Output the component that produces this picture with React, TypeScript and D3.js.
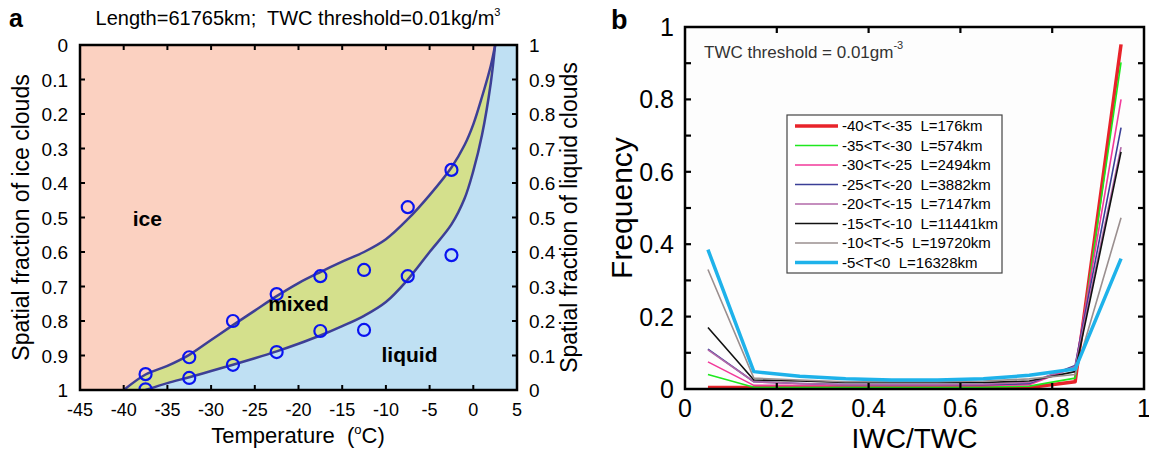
import { useRef, useEffect } from "react";
import * as d3 from "d3";

// panel a: phase boundaries (temperature in C, fraction)
const upperT = [-40, -37.5, -35, -32.5, -30, -27.5, -25, -22.5, -20, -17.5, -15, -12.5, -10, -7.5, -5, -2.5, -1, 0, 1, 2, 2.5];
const upperF = [1.0, 0.955, 0.93, 0.898, 0.855, 0.812, 0.77, 0.728, 0.69, 0.658, 0.628, 0.6, 0.563, 0.505, 0.435, 0.355, 0.29, 0.23, 0.15, 0.06, 0.0];
const lowerT = [-37.5, -35, -32.5, -30, -27.5, -25, -22.5, -20, -17.5, -15, -12.5, -10, -7.5, -5, -2.5, -1, 0, 1, 2, 2.5];
const lowerF = [1.0, 0.98, 0.963, 0.945, 0.927, 0.908, 0.888, 0.866, 0.842, 0.815, 0.785, 0.745, 0.68, 0.6, 0.52, 0.445, 0.365, 0.26, 0.11, 0.0];

// observed points
const obsT = [-37.5, -32.5, -27.5, -22.5, -17.5, -12.5, -7.5, -2.5];
const obsIce = [0.954, 0.905, 0.8, 0.722, 0.67, 0.652, 0.47, 0.362];
const obsLiq = [0.998, 0.965, 0.927, 0.89, 0.829, 0.826, 0.67, 0.609];

// panel b: IWC/TWC histograms
const binCenters = [0.05, 0.15, 0.25, 0.35, 0.45, 0.55, 0.65, 0.75, 0.85, 0.95];
const seriesNames = [
  "-40<T<-35  L=176km",
  "-35<T<-30  L=574km",
  "-30<T<-25  L=2494km",
  "-25<T<-20  L=3882km",
  "-20<T<-15  L=7147km",
  "-15<T<-10  L=11441km",
  "-10<T<-5  L=19720km",
  "-5<T<0  L=16328km",
];
const seriesColors = ["#e8232a", "#1ee81e", "#f2399a", "#3a3f96", "#b268a8", "#111111", "#9a8f8f", "#1eb2ea"];
const seriesWidths = [3.5, 1.6, 1.6, 1.6, 1.6, 1.6, 1.6, 3.5];
const freqRed = [0.004, 0.004, 0.004, 0.004, 0.004, 0.004, 0.004, 0.004, 0.02, 0.952];
const freqGreen = [0.04, 0.005, 0.005, 0.005, 0.005, 0.005, 0.005, 0.008, 0.03, 0.902];
const freqPink = [0.075, 0.01, 0.01, 0.01, 0.01, 0.01, 0.01, 0.012, 0.06, 0.8];
const freqNavy = [0.11, 0.02, 0.015, 0.012, 0.012, 0.012, 0.012, 0.015, 0.065, 0.722];
const freqPurple = [0.108, 0.02, 0.015, 0.012, 0.012, 0.012, 0.013, 0.018, 0.062, 0.668];
const freqBlack = [0.17, 0.025, 0.022, 0.018, 0.018, 0.018, 0.018, 0.022, 0.048, 0.655];
const freqGray = [0.33, 0.03, 0.025, 0.02, 0.02, 0.02, 0.022, 0.028, 0.04, 0.473];
const freqCyan = [0.385, 0.048, 0.035, 0.028, 0.025, 0.025, 0.028, 0.038, 0.055, 0.36];
const allFreq = [freqRed, freqGreen, freqPink, freqNavy, freqPurple, freqBlack, freqGray, freqCyan];

const FONT = "Arial, 'Liberation Sans', Helvetica, sans-serif";

export default function App() {
  const svgRef = useRef<SVGSVGElement>(null);

  useEffect(() => {
    if (!svgRef.current) return;
    const svg = d3.select(svgRef.current);
    svg.selectAll("*").remove();
    svg.style("font-family", FONT);

    // ---------------- panel a ----------------
    const xa = d3.scaleLinear().domain([-45, 5]).range([80, 517]);
    const ya = d3.scaleLinear().domain([0, 1]).range([45, 390]);
    const ya2 = d3.scaleLinear().domain([1, 0]).range([45, 390]);

    const ga = svg.append("g");
    ga.append("clipPath").attr("id", "clipA")
      .append("rect")
      .attr("x", xa(-45)).attr("y", ya(0))
      .attr("width", xa(5) - xa(-45)).attr("height", ya(1) - ya(0));

    const regions = ga.append("g").attr("clip-path", "url(#clipA)");
    regions.append("rect")
      .attr("x", xa(-45)).attr("y", ya(0))
      .attr("width", xa(5) - xa(-45)).attr("height", ya(1) - ya(0))
      .attr("fill", "#bfe0f3");

    const boundary = (ts: number[], fs: number[]) =>
      d3.line<number>()
        .x((t) => xa(t))
        .y((_, i) => ya(fs[i]))
        .curve(d3.curveCatmullRom.alpha(0.5))(ts) as string;
    const corners = `L${xa(-45)},${ya(0)}L${xa(-45)},${ya(1)}Z`;

    regions.append("path").attr("d", boundary(lowerT, lowerF) + corners).attr("fill", "#d4e08c");
    regions.append("path").attr("d", boundary(upperT, upperF) + corners).attr("fill", "#fbd1c1");
    regions.append("path").attr("d", boundary(upperT, upperF)).attr("fill", "none")
      .attr("stroke", "#3d3f96").attr("stroke-width", 2.5);
    regions.append("path").attr("d", boundary(lowerT, lowerF)).attr("fill", "none")
      .attr("stroke", "#3d3f96").attr("stroke-width", 2.5);

    const pts = obsT.flatMap((t, i) => [[t, obsIce[i]], [t, obsLiq[i]]]);
    regions.selectAll("circle.obs").data(pts).join("circle")
      .attr("class", "obs")
      .attr("cx", (d) => xa(d[0])).attr("cy", (d) => ya(d[1])).attr("r", 6)
      .attr("fill", "none").attr("stroke", "#0a14f0").attr("stroke-width", 2.2);

    // region labels
    const regionLabel = (txt: string, t: number, f: number) =>
      ga.append("text").attr("x", xa(t)).attr("y", ya(f))
        .attr("text-anchor", "middle").attr("font-weight", "bold")
        .attr("font-size", 21).text(txt);
    regionLabel("ice", -37.3, 0.525);
    regionLabel("mixed", -20, 0.77);
    regionLabel("liquid", -7.3, 0.92);

    // ticks (inward, all four sides)
    const tickLen = 5;
    const xTicksA = d3.range(-45, 6, 5);
    const yTicksA = d3.range(0, 1.0001, 0.1);
    const tk = ga.append("g").attr("stroke", "#000").attr("stroke-width", 2);
    xTicksA.slice(1, -1).forEach((t) => {
      tk.append("line").attr("x1", xa(t)).attr("x2", xa(t)).attr("y1", ya(1)).attr("y2", ya(1) - tickLen);
      tk.append("line").attr("x1", xa(t)).attr("x2", xa(t)).attr("y1", ya(0)).attr("y2", ya(0) + tickLen);
    });
    yTicksA.slice(1, -1).forEach((f) => {
      tk.append("line").attr("x1", xa(-45)).attr("x2", xa(-45) + tickLen).attr("y1", ya(f)).attr("y2", ya(f));
      tk.append("line").attr("x1", xa(5)).attr("x2", xa(5) - tickLen).attr("y1", ya(f)).attr("y2", ya(f));
    });
    ga.append("rect")
      .attr("x", xa(-45)).attr("y", ya(0))
      .attr("width", xa(5) - xa(-45)).attr("height", ya(1) - ya(0))
      .attr("fill", "none").attr("stroke", "#000").attr("stroke-width", 2.5);

    ga.selectAll("text.xt").data(xTicksA).join("text").attr("class", "xt")
      .attr("x", (d) => xa(d)).attr("y", 416).attr("text-anchor", "middle")
      .attr("font-size", 18).text((d) => d3.format("d")(d).replace("−", "-"));
    ga.selectAll("text.yl").data(yTicksA).join("text").attr("class", "yl")
      .attr("x", 68).attr("y", (d) => ya(d) + 7).attr("text-anchor", "end")
      .attr("font-size", 19).text((d) => d3.format("~g")(+d.toFixed(1)));
    ga.selectAll("text.yr").data(yTicksA).join("text").attr("class", "yr")
      .attr("x", 529).attr("y", (d) => ya(d) + 7).attr("text-anchor", "start")
      .attr("font-size", 19).text((d) => d3.format("~g")(+ya2.invert(ya(d)).toFixed(1)));

    // titles / axis labels
    const title = ga.append("text").attr("x", 298).attr("y", 25).attr("text-anchor", "middle")
      .attr("font-size", 20).attr("xml:space", "preserve").style("white-space", "pre");
    title.append("tspan").text("Length=61765km;  TWC threshold=0.01kg/m");
    title.append("tspan").attr("font-size", 11).attr("dy", -9).text("3");
    const xl = ga.append("text").attr("x", 298).attr("y", 443).attr("text-anchor", "middle")
      .attr("font-size", 22).attr("xml:space", "preserve").style("white-space", "pre");
    xl.append("tspan").text("Temperature  (");
    xl.append("tspan").attr("font-size", 13).attr("dy", -9).text("o");
    xl.append("tspan").attr("dy", 9).text("C)");
    ga.append("text").attr("transform", `translate(29,${(ya(0) + ya(1)) / 2}) rotate(-90)`)
      .attr("text-anchor", "middle").attr("font-size", 23).text("Spatial fraction of ice clouds");
    ga.append("text").attr("transform", `translate(577,${(ya(0) + ya(1)) / 2}) rotate(-90)`)
      .attr("text-anchor", "middle").attr("font-size", 23).text("Spatial fraction of liquid clouds");
    ga.append("text").attr("x", 9).attr("y", 27).attr("font-weight", "bold").attr("font-size", 25).text("a");

    // ---------------- panel b ----------------
    const xb = d3.scaleLinear().domain([0, 1]).range([685, 1144]);
    const yb = d3.scaleLinear().domain([0, 1]).range([389, 27]);
    const gb = svg.append("g");
    gb.append("rect").attr("x", xb(0)).attr("y", yb(1))
      .attr("width", xb(1) - xb(0)).attr("height", yb(0) - yb(1)).attr("fill", "#fdfdfd");

    const line = d3.line<number>().x((_, i) => xb(binCenters[i])).y((d) => yb(d));
    allFreq.forEach((vals, k) => {
      gb.append("path").attr("d", line(vals) as string).attr("fill", "none")
        .attr("stroke", seriesColors[k]).attr("stroke-width", seriesWidths[k])
        .attr("stroke-linejoin", "round");
    });

    const tkb = gb.append("g").attr("stroke", "#000").attr("stroke-width", 2.2);
    const tb = 6;
    [0.2, 0.4, 0.6, 0.8].forEach((v) => {
      tkb.append("line").attr("x1", xb(v)).attr("x2", xb(v)).attr("y1", yb(0)).attr("y2", yb(0) - tb);
      tkb.append("line").attr("x1", xb(v)).attr("x2", xb(v)).attr("y1", yb(1)).attr("y2", yb(1) + tb);
    });
    d3.range(1, 10).forEach((i) => {
      const v = i / 10;
      tkb.append("line").attr("x1", xb(0)).attr("x2", xb(0) + tb).attr("y1", yb(v)).attr("y2", yb(v));
      tkb.append("line").attr("x1", xb(1)).attr("x2", xb(1) - tb).attr("y1", yb(v)).attr("y2", yb(v));
    });
    gb.append("rect").attr("x", xb(0)).attr("y", yb(1))
      .attr("width", xb(1) - xb(0)).attr("height", yb(0) - yb(1))
      .attr("fill", "none").attr("stroke", "#000").attr("stroke-width", 2.5);

    const bTicks = [0, 0.2, 0.4, 0.6, 0.8, 1];
    gb.selectAll("text.bx").data(bTicks).join("text").attr("class", "bx")
      .attr("x", (d) => xb(d)).attr("y", 417).attr("text-anchor", "middle")
      .attr("font-size", 25).text((d) => d3.format("~g")(d));
    gb.selectAll("text.by").data(bTicks).join("text").attr("class", "by")
      .attr("x", 674).attr("y", (d) => yb(d) + 9).attr("text-anchor", "end")
      .attr("font-size", 25).text((d) => d3.format("~g")(d));
    gb.append("text").attr("x", (xb(0) + xb(1)) / 2).attr("y", 448).attr("text-anchor", "middle")
      .attr("font-size", 28).text("IWC/TWC");
    gb.append("text").attr("transform", `translate(632,${(yb(0) + yb(1)) / 2}) rotate(-90)`)
      .attr("text-anchor", "middle").attr("font-size", 30).text("Frequency");
    gb.append("text").attr("x", 611).attr("y", 29).attr("font-weight", "bold").attr("font-size", 27).text("b");

    const note = gb.append("text").attr("x", 704).attr("y", 58).attr("font-size", 17).attr("fill", "#333");
    note.append("tspan").text("TWC threshold = 0.01gm");
    note.append("tspan").attr("font-size", 11).attr("dy", -9).text("-3");

    // legend
    const lg = gb.append("g");
    lg.append("rect").attr("x", 787).attr("y", 115).attr("width", 215).attr("height", 158)
      .attr("fill", "#fff").attr("stroke", "#444").attr("stroke-width", 1.2);
    seriesNames.forEach((name, k) => {
      const cy = 126 + k * 19.5;
      lg.append("line").attr("x1", 795).attr("x2", 838).attr("y1", cy).attr("y2", cy)
        .attr("stroke", seriesColors[k]).attr("stroke-width", seriesWidths[k]);
      lg.append("text").attr("x", 842).attr("y", cy + 5).attr("font-size", 15)
        .attr("xml:space", "preserve").style("white-space", "pre").text(name);
    });
  }, []);

  return (
    <svg
      ref={svgRef}
      width={1149}
      height={455}
      style={{ position: "absolute", left: 0, top: 0, background: "#fff" }}
    />
  );
}
